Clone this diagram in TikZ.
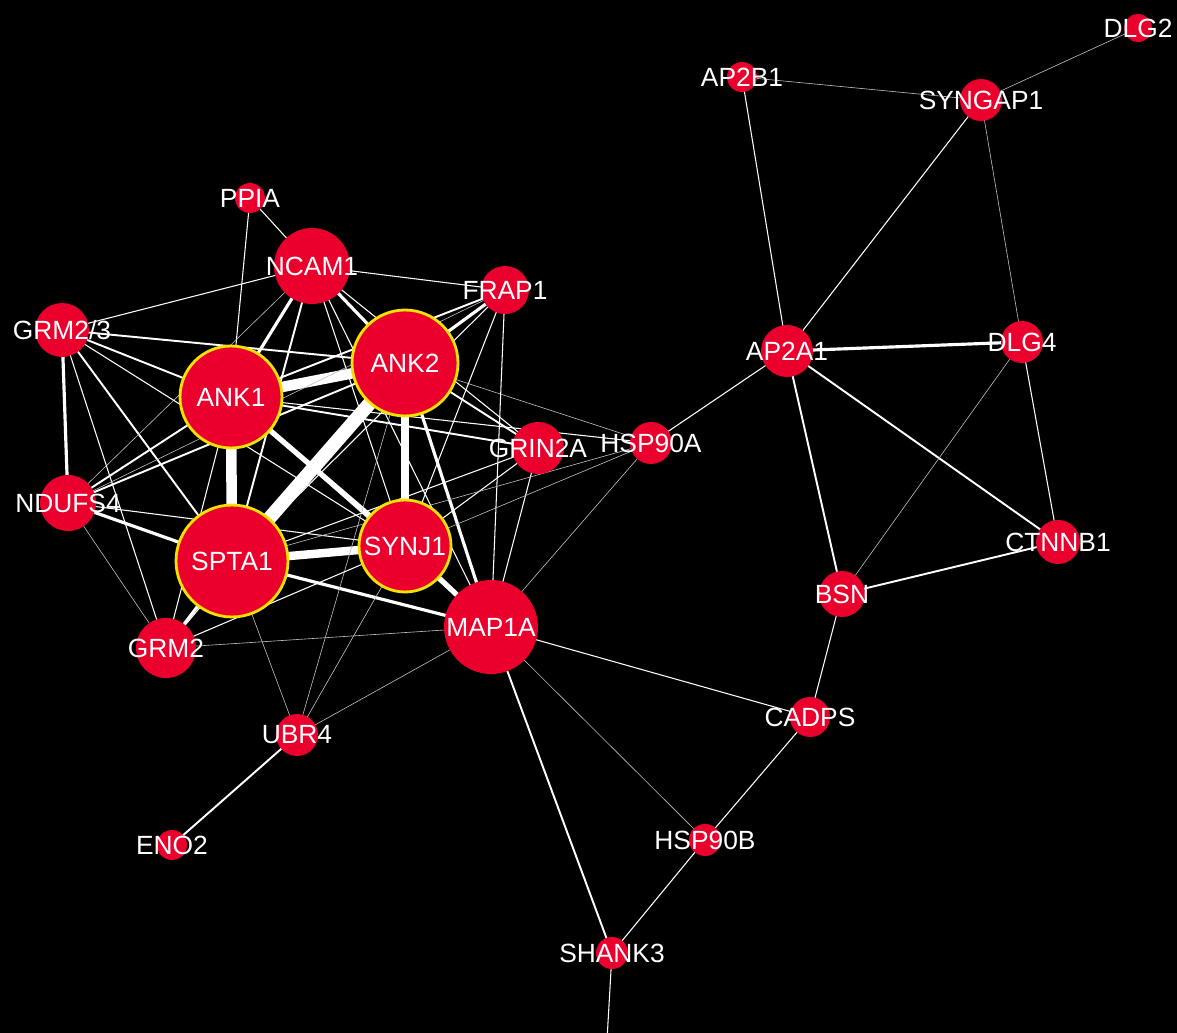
\documentclass[tikz,border=0pt]{standalone}
\usepackage{fontspec}
\setmainfont{Liberation Sans}
\pgfdeclarelayer{bg}
\pgfdeclarelayer{edges}
\pgfsetlayers{bg,edges,main}
\definecolor{nodered}{RGB}{235,0,45}
\definecolor{ringyellow}{RGB}{245,225,0}
\definecolor{thingray}{RGB}{190,190,190}
\tikzset{
  pn/.style={circle, fill=nodered, minimum size=#1*0.04cm, inner sep=0pt},
  hub/.style={pn=#1, draw=ringyellow, line width=1.6pt},
  lab/.style={text=white, inner sep=0pt, font=\fontsize{15}{17}\selectfont},
  ea/.style={draw=thingray, line width=0.35pt},
  eb/.style={draw=white, line width=0.6pt},
  ec/.style={draw=white, line width=1.1pt},
  ed/.style={draw=white, line width=1.8pt},
  ee/.style={draw=white, line width=3pt},
  ef/.style={draw=white, line width=4.8pt},
  eg/.style={draw=white, line width=6pt},
  eh/.style={draw=white, line width=7.8pt},
}
\begin{document}
\begin{tikzpicture}[x=0.02cm,y=-0.02cm]
\begin{pgfonlayer}{bg}
\fill[black] (0,0) rectangle (1177,1033);
\end{pgfonlayer}
\useasboundingbox (0,0) rectangle (1177,1033);
% nodes (circles)
\node[pn=15] (PPIA) at (250,198) {};
\node[pn=38] (NCAM1) at (312,266) {};
\node[pn=24] (FRAP1) at (505,290) {};
\node[pn=27] (GRM23) at (62,330) {};
\node[hub=51] (ANK1) at (231,397) {};
\node[hub=53] (ANK2) at (405,363) {};
\node[pn=26] (GRIN2A) at (538,448) {};
\node[pn=21] (HSP90A) at (651,443) {};
\node[pn=28] (NDUFS4) at (68,503) {};
\node[hub=56] (SPTA1) at (232,561) {};
\node[hub=46] (SYNJ1) at (405,546) {};
\node[pn=47] (MAP1A) at (491,627) {};
\node[pn=30] (GRM2) at (166,648) {};
\node[pn=21] (UBR4) at (297,735) {};
\node[pn=15] (ENO2) at (172,845) {};
\node[pn=14] (DLG2) at (1138,28) {};
\node[pn=15] (AP2B1) at (742,77) {};
\node[pn=21] (SYNGAP1) at (981,100) {};
\node[pn=26] (AP2A1) at (787,351) {};
\node[pn=21] (DLG4) at (1022,342) {};
\node[pn=22] (CTNNB1) at (1058,542) {};
\node[pn=23] (BSN) at (842,594) {};
\node[pn=20] (CADPS) at (810,717) {};
\node[pn=16] (HSP90B) at (705,840) {};
\node[pn=16] (SHANK3) at (612,953) {};
\coordinate (offbottom) at (607,1040);
% labels
\node[lab] (lPPIA) at (PPIA) {PPIA};
\node[lab] (lNCAM1) at (NCAM1) {NCAM1};
\node[lab] (lFRAP1) at (FRAP1) {FRAP1};
\node[lab] (lGRM23) at (GRM23) {GRM2/3};
\node[lab] (lANK1) at (ANK1) {ANK1};
\node[lab] (lANK2) at (ANK2) {ANK2};
\node[lab] (lGRIN2A) at (GRIN2A) {GRIN2A};
\node[lab] (lHSP90A) at (HSP90A) {HSP90A};
\node[lab] (lNDUFS4) at (NDUFS4) {NDUFS4};
\node[lab] (lSPTA1) at (SPTA1) {SPTA1};
\node[lab] (lSYNJ1) at (SYNJ1) {SYNJ1};
\node[lab] (lMAP1A) at (MAP1A) {MAP1A};
\node[lab] (lGRM2) at (GRM2) {GRM2};
\node[lab] (lUBR4) at (UBR4) {UBR4};
\node[lab] (lENO2) at (ENO2) {ENO2};
\node[lab] (lDLG2) at (DLG2) {DLG2};
\node[lab] (lAP2B1) at (AP2B1) {AP2B1};
\node[lab] (lSYNGAP1) at (SYNGAP1) {SYNGAP1};
\node[lab] (lAP2A1) at (AP2A1) {AP2A1};
\node[lab] (lDLG4) at (DLG4) {DLG4};
\node[lab] (lCTNNB1) at (CTNNB1) {CTNNB1};
\node[lab] (lBSN) at (BSN) {BSN};
\node[lab] (lCADPS) at (CADPS) {CADPS};
\node[lab] (lHSP90B) at (HSP90B) {HSP90B};
\node[lab] (lSHANK3) at (SHANK3) {SHANK3};
% edges
\begin{pgfonlayer}{edges}
% thick core
\draw[eh] (ANK2.center) -- (SPTA1.center);
\draw[eg] (ANK1.center) -- (SPTA1.center);
\draw[eg] (ANK1.center) -- (ANK2.center);
\draw[ef] (ANK2.center) -- (SYNJ1.center);
\draw[ef] (SPTA1.center) -- (SYNJ1.center);
\draw[ee] (ANK1.center) -- (SYNJ1.center);
% medium
\draw[ed] (GRM23.center) -- (NDUFS4.center);
\draw[ed] (NCAM1.center) -- (ANK1.center);
\draw[ed] (NCAM1.center) -- (ANK2.center);
\draw[ec] (NCAM1.center) -- (SPTA1.center);
\draw[ed] (SPTA1.center) -- (MAP1A.center);
\draw[ee] (SYNJ1.center) -- (MAP1A.center);
\draw[ed] (ANK2.center) -- (MAP1A.center);
\draw[ed] (SPTA1.center) -- (GRM2.center);
\draw[ed] (NDUFS4.center) -- (SPTA1.center);
\draw[ed] (FRAP1.center) -- (ANK2.center);
\draw[ec] (FRAP1.center) -- (ANK1.center);
\draw[ec] (ANK2.center) -- (GRIN2A.center);
\draw[ec] (ANK1.center) -- (GRIN2A.center);
\draw[ec] (NDUFS4.center) -- (ANK1.center);
\draw[ec] (NDUFS4.center) -- (ANK2.center);
\draw[ec] (GRM23.center) -- (ANK1.center);
\draw[ec] (GRM23.center) -- (ANK2.center);
\draw[ec] (GRM23.center) -- (SPTA1.center);
\draw[ec] (MAP1A.center) -- (SHANK3.center);
\draw[ec] (UBR4.center) -- (ENO2.center);
% thin core
\draw[eb] (PPIA.center) -- (NCAM1.center);
\draw[eb] (PPIA.center) -- (ANK1.center);
\draw[eb] (NCAM1.center) -- (FRAP1.center);
\draw[eb] (NCAM1.center) -- (GRM23.center);
\draw[eb] (NCAM1.center) -- (SYNJ1.center);
\draw[eb] (NCAM1.center) -- (MAP1A.center);
\draw[eb] (NCAM1.center) -- (GRIN2A.center);
\draw[ea] (NCAM1.center) -- (NDUFS4.center);
\draw[eb] (GRM23.center) -- (GRM2.center);
\draw[eb] (GRM23.center) -- (SYNJ1.center);
\draw[eb] (NDUFS4.center) -- (SYNJ1.center);
\draw[ea] (NDUFS4.center) -- (GRM2.center);
\draw[ea] (NDUFS4.center) -- (FRAP1.center);
\draw[eb] (ANK1.center) -- (MAP1A.center);
\draw[eb] (ANK1.center) -- (GRM2.center);
\draw[eb] (ANK1.center) -- (HSP90A.center);
\draw[ea] (ANK2.center) -- (HSP90A.center);
\draw[eb] (ANK2.center) -- (GRM2.center);
\draw[ea] (ANK2.center) -- (UBR4.center);
\draw[eb] (FRAP1.center) -- (SYNJ1.center);
\draw[eb] (FRAP1.center) -- (SPTA1.center);
\draw[eb] (FRAP1.center) -- (MAP1A.center);
\draw[eb] (GRIN2A.center) -- (SYNJ1.center);
\draw[eb] (GRIN2A.center) -- (SPTA1.center);
\draw[eb] (GRIN2A.center) -- (MAP1A.center);
\draw[ea] (HSP90A.center) -- (SYNJ1.center);
\draw[ea] (HSP90A.center) -- (SPTA1.center);
\draw[ea] (HSP90A.center) -- (MAP1A.center);
\draw[eb] (HSP90A.center) -- (AP2A1.center);
\draw[eb] (SYNJ1.center) -- (GRM2.center);
\draw[ea] (SYNJ1.center) -- (UBR4.center);
\draw[ea] (SPTA1.center) -- (UBR4.center);
\draw[ea] (MAP1A.center) -- (GRM2.center);
\draw[ea] (MAP1A.center) -- (UBR4.center);
\draw[eb] (MAP1A.center) -- (CADPS.center);
\draw[ea] (MAP1A.center) -- (HSP90B.center);
% right cluster
\draw[ea] (AP2B1.center) -- (SYNGAP1.center);
\draw[eb] (AP2B1.center) -- (AP2A1.center);
\draw[ea] (SYNGAP1.center) -- (DLG2.center);
\draw[eb] (SYNGAP1.center) -- (AP2A1.center);
\draw[ea] (SYNGAP1.center) -- (DLG4.center);
\draw[ed] (AP2A1.center) -- (DLG4.center);
\draw[ec] (AP2A1.center) -- (BSN.center);
\draw[ec] (AP2A1.center) -- (CTNNB1.center);
\draw[ea] (DLG4.center) -- (BSN.center);
\draw[eb] (DLG4.center) -- (CTNNB1.center);
\draw[ec] (BSN.center) -- (CTNNB1.center);
\draw[eb] (BSN.center) -- (CADPS.center);
\draw[eb] (CADPS.center) -- (HSP90B.center);
\draw[eb] (HSP90B.center) -- (SHANK3.center);
\draw[eb] (SHANK3.center) -- (offbottom);
\end{pgfonlayer}
\end{tikzpicture}
\end{document}
